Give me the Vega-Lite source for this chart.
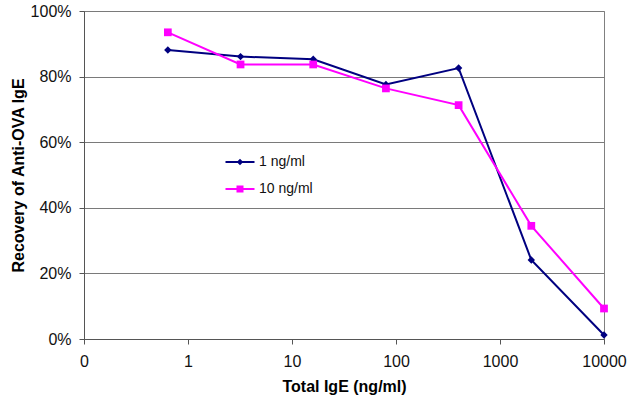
{
  "$schema": "https://vega.github.io/schema/vega-lite/v6.json",
  "width": 520,
  "height": 328,
  "autosize": "none",
  "padding": {"left": 84, "top": 11, "right": 24, "bottom": 67},
  "background": "white",
  "config": {
    "font": "Liberation Sans",
    "view": {"stroke": "#808080", "strokeWidth": 1},
    "axis": {
      "labelFont": "Liberation Sans",
      "titleFont": "Liberation Sans",
      "labelFontSize": 16,
      "labelColor": "#111",
      "titleFontSize": 16,
      "titleFontWeight": "bold",
      "titleColor": "#000",
      "domainColor": "#555",
      "tickColor": "#555",
      "tickSize": 5,
      "gridColor": "#7a7a7a",
      "gridWidth": 1
    }
  },
  "data": {
    "values": [
      {"x": 0.64, "recovery": 0.881, "series": "1 ng/ml"},
      {"x": 3.2, "recovery": 0.861, "series": "1 ng/ml"},
      {"x": 16, "recovery": 0.853, "series": "1 ng/ml"},
      {"x": 80, "recovery": 0.776, "series": "1 ng/ml"},
      {"x": 400, "recovery": 0.826, "series": "1 ng/ml"},
      {"x": 2000, "recovery": 0.241, "series": "1 ng/ml"},
      {"x": 10000, "recovery": 0.012, "series": "1 ng/ml"},
      {"x": 0.64, "recovery": 0.935, "series": "10 ng/ml"},
      {"x": 3.2, "recovery": 0.837, "series": "10 ng/ml"},
      {"x": 16, "recovery": 0.837, "series": "10 ng/ml"},
      {"x": 80, "recovery": 0.764, "series": "10 ng/ml"},
      {"x": 400, "recovery": 0.713, "series": "10 ng/ml"},
      {"x": 2000, "recovery": 0.345, "series": "10 ng/ml"},
      {"x": 10000, "recovery": 0.093, "series": "10 ng/ml"}
    ]
  },
  "encoding": {
    "x": {
      "field": "x",
      "type": "quantitative",
      "scale": {"type": "log", "domain": [0.1, 10000], "nice": false},
      "axis": {
        "title": "Total IgE (ng/ml)",
        "values": [0.1, 1, 10, 100, 1000, 10000],
        "labelExpr": "datum.value < 1 ? '0' : format(datum.value, 'd')",
        "grid": false,
        "labelPadding": 9,
        "titlePadding": 9,
        "labelFlush": false
      }
    },
    "y": {
      "field": "recovery",
      "type": "quantitative",
      "scale": {"domain": [0, 1], "nice": false},
      "axis": {
        "title": "Recovery of Anti-OVA IgE",
        "values": [0, 0.2, 0.4, 0.6, 0.8, 1],
        "format": ".0%",
        "grid": true,
        "labelPadding": 8,
        "titlePadding": 4
      }
    }
  },
  "layer": [
    {
      "mark": {"type": "line", "strokeWidth": 2},
      "encoding": {
        "color": {
          "field": "series",
          "type": "nominal",
          "scale": {"domain": ["1 ng/ml", "10 ng/ml"], "range": ["#000080", "#FF00FF"]},
          "legend": {
            "title": null,
            "orient": "none",
            "legendX": 146,
            "legendY": 141,
            "padding": 0,
            "symbolSize": 400,
            "symbolStrokeWidth": 0,
            "rowPadding": 10,
            "labelOffset": 9,
            "labelFontSize": 14,
            "labelFont": "Liberation Sans",
            "labelColor": "#111",
            "encode": {
              "symbols": {
                "update": {
                  "shape": {"signal": "datum.value === '1 ng/ml' ? 'M-1.45,-0.1L1.45,-0.1L1.45,0.1L-1.45,0.1ZM0,-0.32L0.32,0L0,0.32L-0.32,0Z' : 'M-1.45,-0.1L1.45,-0.1L1.45,0.1L-1.45,0.1ZM-0.35,-0.35L0.35,-0.35L0.35,0.35L-0.35,0.35Z'"},
                  "fill": {"signal": "scale('color', datum.value)"},
                  "opacity": {"value": 1},
                  "fillOpacity": {"value": 1}
                }
              }
            }
          }
        }
      }
    },
    {
      "transform": [{"filter": "datum.series === '1 ng/ml'"}],
      "mark": {"type": "point", "filled": true, "opacity": 1, "shape": "diamond", "size": 55, "color": "#000080"}
    },
    {
      "transform": [{"filter": "datum.series === '10 ng/ml'"}],
      "mark": {"type": "point", "filled": true, "opacity": 1, "shape": "square", "size": 60, "color": "#FF00FF"}
    }
  ]
}
